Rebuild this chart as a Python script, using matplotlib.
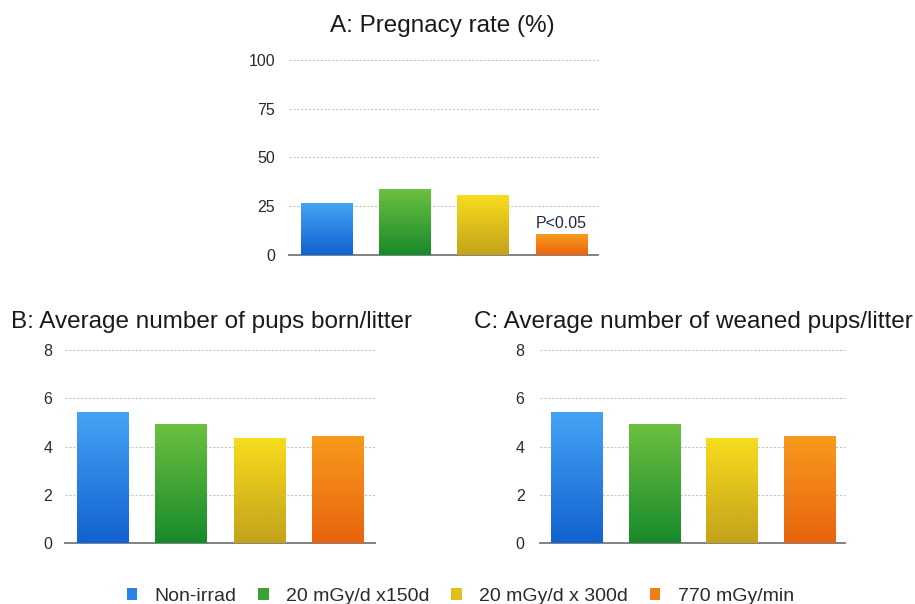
import numpy as np
import matplotlib
matplotlib.use("Agg")
import matplotlib.pyplot as plt
from matplotlib.colors import LinearSegmentedColormap
from matplotlib.patches import Patch

plt.rcParams['font.family'] = ['Liberation Sans', 'DejaVu Sans']

groups = ["Non-irrad", "20 mGy/d x150d", "20 mGy/d x 300d", "770 mGy/min"]
pregnancy = [26.5, 33.5, 30.5, 10.5]
pups_born = [5.4, 4.9, 4.35, 4.4]
pups_weaned = [5.4, 4.9, 4.35, 4.4]

# (top colour, bottom colour) for the gradient fill
grads = [("#45a3f5", "#1262d0"),
         ("#6cc040", "#188a2a"),
         ("#f7dc1c", "#c4a21c"),
         ("#f89a1c", "#e8640e")]
mids = ["#2a84e6", "#3aa334", "#e2c01c", "#f07e14"]


def panel(ax, values, ymax, yticks, pad):
    x = np.arange(len(values))
    bars = ax.bar(x, values, width=0.66, color=mids, zorder=2)
    for b, (top, bot) in zip(bars, grads):
        cmap = LinearSegmentedColormap.from_list("g", [bot, top])
        g = np.linspace(0, 1, 100).reshape(-1, 1)
        ax.imshow(g, cmap=cmap, origin="lower", aspect="auto", zorder=3,
                  extent=[b.get_x(), b.get_x() + b.get_width(), 0, b.get_height()])
    ax.set_xlim(-0.48, 3.47)
    ax.set_ylim(0, ymax)
    ax.set_yticks(yticks)
    ax.set_xticks([])
    for t in yticks[1:]:
        ax.axhline(t, color="#c4c4c4", lw=0.8, ls=(0, (2, 1.5)), zorder=1, clip_on=False)
    for s in ["top", "right", "left"]:
        ax.spines[s].set_visible(False)
    ax.spines["bottom"].set_color("#777777")
    ax.spines["bottom"].set_linewidth(1.3)
    ax.tick_params(axis="y", length=0, pad=pad, labelsize=11.5, labelcolor="#2a2a2a")
    return bars


fig = plt.figure(figsize=(9.15, 6.04), dpi=100)

axA = fig.add_axes([0.316, 0.578, 0.338, 0.323])
barsA = panel(axA, pregnancy, 100, [0, 25, 50, 75, 100], 10)
b = barsA[3]
axA.text(b.get_x() + b.get_width() / 2, b.get_height() + 1.5, "P<0.05",
         ha="center", va="bottom", fontsize=11.5, color="#1e2a44", zorder=4)

axB = fig.add_axes([0.071, 0.101, 0.339, 0.3195])
panel(axB, pups_born, 8, [0, 2, 4, 6, 8], 9)

axC = fig.add_axes([0.590, 0.101, 0.334, 0.3195])
panel(axC, pups_weaned, 8, [0, 2, 4, 6, 8], 11)

fig.text(0.483, 0.947, "A: Pregnacy rate (%)", ha="center", va="baseline",
         fontsize=17.5, color="#1a1a1a")
fig.text(0.012, 0.457, "B: Average number of pups born/litter", ha="left",
         va="baseline", fontsize=17.5, color="#1a1a1a")
fig.text(0.518, 0.457, "C: Average number of weaned pups/litter", ha="left",
         va="baseline", fontsize=17.5, color="#1a1a1a")

handles = [Patch(facecolor=c, edgecolor="none") for c in mids]
fig.legend(handles, groups, loc="center", bbox_to_anchor=(0.503, 0.013),
           ncol=4, frameon=False, fontsize=14, handlelength=0.55,
           handleheight=0.55, handletextpad=0.9, columnspacing=1.1,
           labelcolor="#2a2a2a")

fig.savefig("out.png", dpi=100)
